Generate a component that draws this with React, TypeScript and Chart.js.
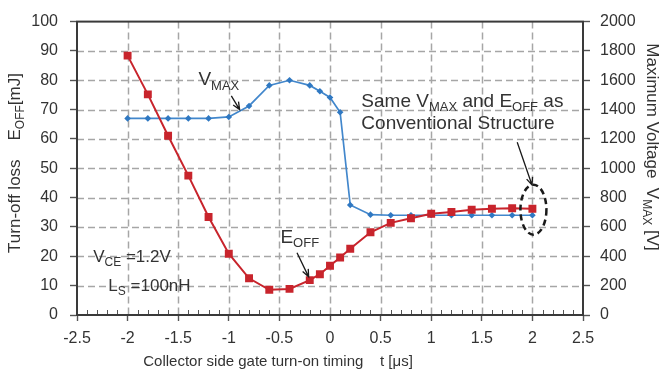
import { useEffect, useRef } from "react";
import { Chart, registerables } from "chart.js";

Chart.register(...registerables);

const FONT = "'Liberation Sans', Arial, Helvetica, sans-serif";
const TEXT = "#333333";
const RED = "#c8242c";
const BLUE = "#4287cc";
const BLUE_MARK = "#2f78c2";
const GRID = "#a6a6a6";

// Collector side gate turn-on timing t [µs]
const timing = [-2, -1.8, -1.6, -1.4, -1.2, -1, -0.8, -0.6, -0.4, -0.2, -0.1, 0, 0.1, 0.2, 0.4, 0.6, 0.8, 1, 1.2, 1.4, 1.6, 1.8, 2];
// Turn-off loss E_OFF [mJ]
const turnOffLoss = [88.4, 75.2, 61.1, 47.5, 33.4, 20.9, 12.5, 8.6, 8.9, 11.9, 13.9, 16.8, 19.6, 22.6, 28.2, 31.4, 33.0, 34.5, 35.1, 35.9, 36.2, 36.4, 36.2];
// Maximum voltage V_MAX [V]
const maxVoltage = [1340, 1340, 1340, 1340, 1340, 1350, 1425, 1565, 1600, 1565, 1525, 1483, 1382, 750, 684, 680, 680, 680, 680, 680, 680, 680, 680];

const xTicks = [-2.5, -2, -1.5, -1, -0.5, 0, 0.5, 1, 1.5, 2, 2.5];
const xTickLabels = ["-2.5", "-2", "-1.5", "-1", "-0.5", "0", "0.5", "1", "1.5", "2", "2.5"];
const lossTicks = [0, 10, 20, 30, 40, 50, 60, 70, 80, 90, 100];
const lossTickLabels = ["0", "10", "20", "30", "40", "50", "60", "70", "80", "90", "100"];
const voltTicks = [0, 200, 400, 600, 800, 1000, 1200, 1400, 1600, 1800, 2000];
const voltTickLabels = ["0", "200", "400", "600", "800", "1000", "1200", "1400", "1600", "1800", "2000"];

type Part = { text: string; sub?: boolean };

function drawRich(
  ctx: CanvasRenderingContext2D,
  parts: Part[],
  x: number,
  y: number,
  size: number,
  subSize: number,
  align: "left" | "center" = "left"
) {
  const widths = parts.map((p) => {
    ctx.font = `${p.sub ? subSize : size}px ${FONT}`;
    return ctx.measureText(p.text).width;
  });
  const total = widths.reduce((a, b) => a + b, 0);
  let cx = align === "center" ? x - total / 2 : x;
  ctx.textAlign = "left";
  ctx.textBaseline = "alphabetic";
  parts.forEach((p, i) => {
    ctx.font = `${p.sub ? subSize : size}px ${FONT}`;
    ctx.fillText(p.text, cx, p.sub ? y + subSize * 0.35 : y);
    cx += widths[i];
  });
}

function drawArrow(ctx: CanvasRenderingContext2D, x1: number, y1: number, x2: number, y2: number) {
  const a = Math.atan2(y2 - y1, x2 - x1);
  const head = 8;
  ctx.beginPath();
  ctx.moveTo(x1, y1);
  ctx.lineTo(x2, y2);
  ctx.moveTo(x2 - head * Math.cos(a - 0.4), y2 - head * Math.sin(a - 0.4));
  ctx.lineTo(x2, y2);
  ctx.lineTo(x2 - head * Math.cos(a + 0.4), y2 - head * Math.sin(a + 0.4));
  ctx.stroke();
}

// dashed grid behind the series
const dashedGrid = {
  id: "dashedGrid",
  beforeDatasetsDraw(chart: any) {
    const { ctx, chartArea, scales } = chart;
    ctx.save();
    ctx.strokeStyle = GRID;
    ctx.lineWidth = 1.5;
    ctx.setLineDash([7, 4]);
    xTicks.slice(1, -1).forEach((v) => {
      const x = Math.round(scales.x.getPixelForValue(v)) + 0.5;
      ctx.beginPath();
      ctx.moveTo(x, chartArea.top);
      ctx.lineTo(x, chartArea.bottom);
      ctx.stroke();
    });
    lossTicks.slice(1, -1).forEach((v) => {
      const y = Math.round(scales.y.getPixelForValue(v)) + 0.5;
      ctx.beginPath();
      ctx.moveTo(chartArea.left, y);
      ctx.lineTo(chartArea.right, y);
      ctx.stroke();
    });
    ctx.restore();
  },
};

const decorations = {
  id: "decorations",
  afterDraw(chart: any) {
    const { ctx, chartArea, scales } = chart;
    const sx = scales.x;
    const sy = scales.y;
    const px = (v: number) => sx.getPixelForValue(v);
    const py = (v: number) => sy.getPixelForValue(v);
    ctx.save();

    // minor ticks along the time axis
    ctx.strokeStyle = "#555";
    ctx.lineWidth = 1;
    ctx.beginPath();
    for (let k = -25; k <= 25; k++) {
      if (k % 5 === 0) continue;
      const x = Math.round(px(k / 10)) + 0.5;
      ctx.moveTo(x, chartArea.bottom);
      ctx.lineTo(x, chartArea.bottom - 5);
    }
    ctx.stroke();

    // plot frame
    ctx.strokeStyle = "#3a3a3a";
    ctx.lineWidth = 2;
    ctx.strokeRect(chartArea.left, chartArea.top, chartArea.right - chartArea.left, chartArea.bottom - chartArea.top);

    ctx.fillStyle = TEXT;

    // axis titles
    drawRich(ctx, [{ text: "Collector side gate turn-on timing    t [\u03bcs]" }], 278, 366, 15, 11, "center");

    ctx.save();
    ctx.translate(20, 163);
    ctx.rotate(-Math.PI / 2);
    drawRich(ctx, [{ text: "Turn-off loss    E" }, { text: "OFF", sub: true }, { text: "[mJ]" }], 0, 0, 17, 12, "center");
    ctx.restore();

    ctx.save();
    ctx.translate(647, 147);
    ctx.rotate(Math.PI / 2);
    drawRich(ctx, [{ text: "Maximum Voltage  V" }, { text: "MAX", sub: true }, { text: " [V]" }], 0, 0, 17, 12, "center");
    ctx.restore();

    // annotations
    drawRich(ctx, [{ text: "V" }, { text: "MAX", sub: true }], px(-1.3), py(78.4), 19, 13);
    drawRich(ctx, [{ text: "E" }, { text: "OFF", sub: true }], px(-0.49), py(24.6), 19, 13);
    drawRich(ctx, [{ text: "Same V" }, { text: "MAX", sub: true }, { text: " and E" }, { text: "OFF", sub: true }, { text: " as" }], px(0.31), py(71.0), 19, 13);
    drawRich(ctx, [{ text: "Conventional Structure" }], px(0.31), py(63.4), 19, 13);
    drawRich(ctx, [{ text: "V" }, { text: "CE", sub: true }, { text: " =1.2V" }], px(-2.34), py(18), 17, 12);
    drawRich(ctx, [{ text: "L" }, { text: "S", sub: true }, { text: " =100nH" }], px(-2.19), py(8.2), 17, 12);

    ctx.strokeStyle = "#1a1a1a";
    ctx.lineWidth = 1.3;
    drawArrow(ctx, px(-0.975), py(74.7), px(-0.893), py(70.0));
    drawArrow(ctx, px(-0.326), py(21.2), px(-0.211), py(13.0));
    drawArrow(ctx, px(1.85), py(58.9), px(1.996), py(44.3));

    // dashed ellipse around the t = 2 µs points
    ctx.setLineDash([6, 4]);
    ctx.lineWidth = 2.5;
    ctx.beginPath();
    ctx.ellipse(px(2.01), py(35.9), 13, 25, 0, 0, Math.PI * 2);
    ctx.stroke();
    ctx.restore();
  },
};

export default function App() {
  const canvasRef = useRef<HTMLCanvasElement | null>(null);

  useEffect(() => {
    if (!canvasRef.current) return;
    const tickFont = { family: FONT, size: 16 };
    const tickGrid = {
      drawOnChartArea: false,
      tickLength: 7,
      tickColor: "#555",
      tickWidth: 1.4,
    };
    const chart = new Chart(canvasRef.current, {
      type: "line",
      data: {
        datasets: [
          {
            label: "E_OFF",
            data: timing.map((t, i) => ({ x: t, y: turnOffLoss[i] })),
            yAxisID: "y",
            borderColor: RED,
            backgroundColor: RED,
            borderWidth: 2,
            pointStyle: "rect",
            pointRadius: 5.6,
            pointBorderWidth: 0,
            tension: 0,
          },
          {
            label: "V_MAX",
            data: timing.map((t, i) => ({ x: t, y: maxVoltage[i] })),
            yAxisID: "y2",
            borderColor: BLUE,
            backgroundColor: BLUE_MARK,
            borderWidth: 1.7,
            pointStyle: "rectRot",
            pointRadius: 3.3,
            pointBorderWidth: 0,
            tension: 0,
          },
        ],
      },
      options: {
        animation: false,
        responsive: true,
        maintainAspectRatio: false,
        layout: { padding: { top: 18, left: 0, right: 0, bottom: 0 } },
        plugins: { legend: { display: false }, tooltip: { enabled: false } },
        scales: {
          x: {
            type: "linear",
            min: -2.5,
            max: 2.5,
            afterBuildTicks: (s: any) => {
              s.ticks = xTicks.map((v) => ({ value: v }));
            },
            afterFit: (s: any) => {
              s.height = 59;
            },
            ticks: {
              autoSkip: false,
              maxRotation: 0,
              padding: 8,
              color: TEXT,
              font: tickFont,
              callback: (_v: any, i: number) => xTickLabels[i],
            },
            grid: { ...tickGrid, tickLength: 6 },
            border: { display: true, color: "#3a3a3a", width: 2 },
          },
          y: {
            position: "left",
            min: 0,
            max: 100,
            afterBuildTicks: (s: any) => {
              s.ticks = lossTicks.map((v) => ({ value: v }));
            },
            afterFit: (s: any) => {
              s.width = 77;
            },
            ticks: {
              autoSkip: false,
              padding: 12,
              color: TEXT,
              font: tickFont,
              callback: (_v: any, i: number) => lossTickLabels[i],
            },
            grid: tickGrid,
            border: { display: true, color: "#3a3a3a", width: 2 },
          },
          y2: {
            position: "right",
            min: 0,
            max: 2000,
            afterBuildTicks: (s: any) => {
              s.ticks = voltTicks.map((v) => ({ value: v }));
            },
            afterFit: (s: any) => {
              s.width = 77;
            },
            ticks: {
              autoSkip: false,
              padding: 10,
              color: TEXT,
              font: tickFont,
              callback: (_v: any, i: number) => voltTickLabels[i],
            },
            grid: tickGrid,
            border: { display: true, color: "#3a3a3a", width: 2 },
          },
        },
      },
      plugins: [dashedGrid, decorations],
    });
    return () => chart.destroy();
  }, []);

  return (
    <div style={{ position: "fixed", left: 0, top: 0, width: 660, height: 374, background: "#fff" }}>
      <canvas ref={canvasRef} />
    </div>
  );
}
